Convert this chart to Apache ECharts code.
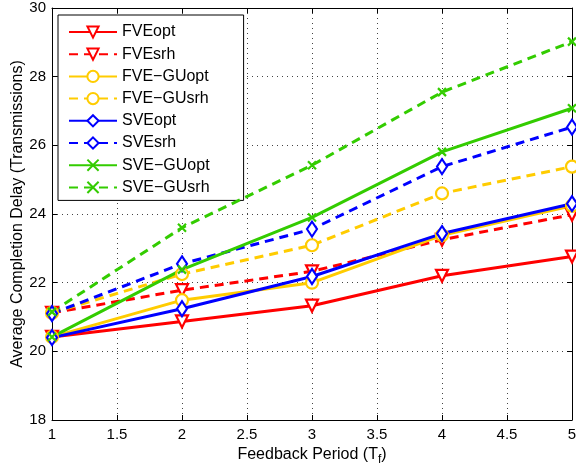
<!DOCTYPE html>
<html>
<head>
<meta charset="utf-8">
<script src="https://cdn.jsdelivr.net/npm/echarts@6/dist/echarts.min.js"></script>
<style>html,body{margin:0;padding:0;background:#fff;}#c{width:576px;height:467px;}</style>
</head>
<body>
<div id="c"></div>
<script>
const periods = [1, 2, 3, 4, 5];
const seriesNames = ['FVEopt', 'FVEsrh', 'FVE\u2212GUopt', 'FVE\u2212GUsrh', 'SVEopt', 'SVEsrh', 'SVE\u2212GUopt', 'SVE\u2212GUsrh'];
const FVEopt   = [20.42, 20.87, 21.33, 22.2, 22.76];
const FVEsrh   = [21.12, 21.78, 22.33, 23.25, 23.98];
const FVEGUopt = [20.42, 21.49, 22.0, 23.38, 24.24];
const FVEGUsrh = [21.12, 22.25, 23.09, 24.6, 25.38];
const SVEopt   = [20.4, 21.24, 22.18, 23.43, 24.3];
const SVEsrh   = [21.1, 22.55, 23.56, 25.38, 26.53];
const SVEGUopt = [20.42, 22.38, 23.9, 25.81, 27.08];
const SVEGUsrh = [21.15, 23.6, 25.42, 27.55, 29.02];
const yTicks = [18, 20, 22, 24, 26, 28, 30];
const xTicks = [1, 1.5, 2, 2.5, 3, 3.5, 4, 4.5, 5];

const RED = '#ff0000', YEL = '#ffcc00', BLU = '#0000ff', GRN = '#33cc00';
const xPath = 'path://M0,0L10,10M10,0L0,10';
const allValues = [FVEopt, FVEsrh, FVEGUopt, FVEGUsrh, SVEopt, SVEsrh, SVEGUopt, SVEGUsrh];
const styles = [
  {c: RED, dash: 'solid', sym: 'triangle', size: 12, rot: 180},
  {c: RED, dash: [9, 6], sym: 'triangle', size: 12, rot: 180},
  {c: YEL, dash: 'solid', sym: 'circle', size: 12, rot: 0},
  {c: YEL, dash: [9, 6], sym: 'circle', size: 12, rot: 0},
  {c: BLU, dash: 'solid', sym: 'diamond', size: [10, 15], rot: 0},
  {c: BLU, dash: [9, 6], sym: 'diamond', size: [10, 15], rot: 0},
  {c: GRN, dash: 'solid', sym: xPath, size: 8, rot: 0},
  {c: GRN, dash: [9, 6], sym: xPath, size: 8, rot: 0}
];

const series = seriesNames.map((n, i) => ({
  name: n,
  type: 'line',
  data: periods.map((p, j) => [p, allValues[i][j]]),
  symbol: styles[i].sym,
  symbolSize: styles[i].size,
  symbolRotate: styles[i].rot,
  showAllSymbol: true,
  lineStyle: {color: styles[i].c, width: 3, type: styles[i].dash},
  itemStyle: {color: styles[i].sym === xPath ? styles[i].c : '#ffffff', borderColor: styles[i].c, borderWidth: 2.2},
  emphasis: {disabled: true},
  animation: false,
  z: 10
}));

const FONT = 'Liberation Sans, Arial, sans-serif';
const chart = echarts.init(document.getElementById('c'), null, {renderer: 'canvas'});
chart.setOption({
  backgroundColor: '#fff',
  animation: false,
  grid: {left: 52, right: 4, top: 8, bottom: 47, containLabel: false, outerBoundsMode: 'none'},
  legend: {
    orient: 'vertical',
    left: 58, top: 15,
    padding: [9, 34, 5, 10],
    itemWidth: 48, itemHeight: 14, itemGap: 6.2,
    backgroundColor: '#fff',
    borderColor: '#000', borderWidth: 1,
    textStyle: {fontFamily: FONT, fontSize: 16, color: '#000'},
    data: seriesNames,
    selectedMode: false
  },
  xAxis: [{
    type: 'value', min: 1, max: 5, interval: 0.5,
    name: 'Feedback Period (T{sub|f})',
    nameLocation: 'middle', nameGap: 24, nameMoveOverlap: false,
    nameTextStyle: {fontFamily: FONT, fontSize: 16, color: '#000',
      rich: {sub: {fontFamily: FONT, fontSize: 12, color: '#000', verticalAlign: 'bottom', padding: [10, 0, 0, 0]}}},
    axisLine: {lineStyle: {color: '#000', width: 1}},
    axisTick: {inside: true, length: 5, lineStyle: {color: '#000'}},
    axisLabel: {fontFamily: FONT, fontSize: 15, color: '#000', margin: 7,
      formatter: v => xTicks.includes(v) ? String(v) : ''},
    splitLine: {show: true, lineStyle: {color: '#444', type: [1, 4], width: 1}}
  }, {
    type: 'value', min: 1, max: 5, interval: 0.5, position: 'top',
    axisLine: {lineStyle: {color: '#000', width: 1}},
    axisTick: {inside: true, length: 5, lineStyle: {color: '#000'}},
    axisLabel: {show: false}, splitLine: {show: false}
  }],
  yAxis: [{
    type: 'value', min: 18, max: 30, interval: 2,
    name: 'Average Completion Delay (Transmissions)',
    nameLocation: 'middle', nameGap: 26, nameRotate: 90, nameMoveOverlap: false,
    nameTextStyle: {fontFamily: FONT, fontSize: 16, color: '#000'},
    axisLine: {lineStyle: {color: '#000', width: 1}},
    axisTick: {inside: true, length: 5, lineStyle: {color: '#000'}},
    axisLabel: {fontFamily: FONT, fontSize: 15, color: '#000', margin: 6,
      formatter: v => yTicks.includes(v) ? String(v) : ''},
    splitLine: {show: true, lineStyle: {color: '#444', type: [1, 4], width: 1}}
  }, {
    type: 'value', min: 18, max: 30, interval: 2, position: 'right',
    axisLine: {lineStyle: {color: '#000', width: 1}},
    axisTick: {inside: true, length: 5, lineStyle: {color: '#000'}},
    axisLabel: {show: false}, splitLine: {show: false}
  }],
  series: series
});
</script>
</body>
</html>
